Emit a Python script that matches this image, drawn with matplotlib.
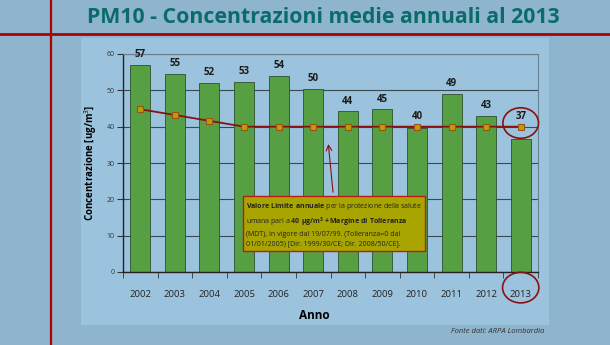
import numpy as np
import matplotlib.pyplot as plt
from matplotlib.patches import Rectangle, Ellipse
from matplotlib.lines import Line2D

plt.rcParams['font.family'] = ['Open Sans', 'DejaVu Sans']
plt.rcParams['mathtext.fontset'] = 'custom'
plt.rcParams['mathtext.rm'] = 'Open Sans'
plt.rcParams['mathtext.bf'] = 'Open Sans:bold'

# ===== data =====
years = ['2002', '2003', '2004', '2005', '2006', '2007',
         '2008', '2009', '2010', '2011', '2012', '2013']
pm10 = [57.0, 54.6, 52.0, 52.3, 53.9, 50.4, 44.2, 44.8, 39.7, 49.0, 42.9, 36.7]
pm10_labels = ['57', '55', '52', '53', '54', '50', '44', '45', '40', '49', '43', '37']
limit = [44.8, 43.2, 41.6, 40, 40, 40, 40, 40, 40, 40, 40, 40]

box_text = ("$\\mathbf{Valore\\ Limite\\ annuale}$ per la protezione della salute\n"
            "umana pari a $\\mathbf{40\\ \\mu g/m^3 + Margine\\ di\\ Tolleranza}$\n"
            "(MDT), in vigore dal 19/07/99. (Tolleranza=0 dal\n"
            "01/01/2005) [Dir. 1999/30/CE; Dir. 2008/50/CE].")

slide_bg = '#8fb4cd'
panel_bg = '#9cc3dd'
red = '#b00000'

fig = plt.figure(figsize=(6.1, 3.45), dpi=100, facecolor=slide_bg)

# slide decorations
fig.patches.append(Rectangle((81 / 610, 1 - 325 / 345), 468 / 610, 287 / 345,
                             transform=fig.transFigure, facecolor=panel_bg,
                             edgecolor='none', zorder=-2))
fig.lines.append(Line2D([51 / 610, 51 / 610], [0, 1], transform=fig.transFigure,
                        color=red, lw=1.6, zorder=-1))
fig.lines.append(Line2D([0, 1], [1 - 33.5 / 345, 1 - 33.5 / 345], transform=fig.transFigure,
                        color=red, lw=2.0, zorder=-1))
fig.text(323 / 610, 1 - 17.5 / 345, 'PM10 - Concentrazioni medie annuali al 2013',
         ha='center', va='center', fontsize=15.3, fontweight='bold',
         color='#0b6b6b', family='Open Sans')
fig.text(0.893, 0.04, 'Fonte dati: ARPA Lombardia', ha='right', va='center',
         fontsize=5.5, style='italic', color='#333333')

ax = fig.add_axes([123 / 610, 1 - 272 / 345, 415 / 610, 218 / 345])
ax.set_facecolor(panel_bg)
x = np.arange(len(years))

ax.bar(x, pm10, width=0.58, color='#56a043', edgecolor='#2f4f2f', linewidth=0.6, zorder=2)
for xi, v, lim, lab in zip(x, pm10, limit, pm10_labels):
    ax.text(xi, max(v, lim) + 1.3, lab, ha='center', va='bottom', fontsize=7,
            fontweight='bold', color='#1a1a1a', zorder=6)

ax.plot(x, limit, color='#8b1010', lw=1.3, marker='s', markersize=4.5,
        markerfacecolor='#b8a000', markeredgecolor='#a0501a', markeredgewidth=0.8, zorder=4)

ax.set_xlim(-0.5, len(years) - 0.5)
ax.set_ylim(0, 60)
ax.set_yticks(range(0, 61, 10))
ax.yaxis.grid(True, color='#3a4a55', lw=0.8)
ax.set_axisbelow(True)
ax.set_xticks(x, years)
ax.set_xticks(np.arange(-0.5, len(years)), minor=True)
ax.tick_params(axis='x', which='major', length=0, labelsize=6.8, pad=13, colors='#222222')
ax.tick_params(axis='x', which='minor', length=4, direction='out', color='#333333')
ax.tick_params(axis='y', length=4, direction='out', labelsize=5, colors='#333333', pad=2)
for s in ['top', 'right']:
    ax.spines[s].set_color('#6a7f8c')
    ax.spines[s].set_linewidth(0.8)
for s in ['left', 'bottom']:
    ax.spines[s].set_color('#222222')
    ax.spines[s].set_linewidth(1.0)

ax.set_ylabel('Concentrazione [ug/m$^3$]', fontsize=7, fontweight='bold', labelpad=5)
ax.set_xlabel('Anno', fontsize=8.5, fontweight='bold', labelpad=5)
ax.xaxis.set_label_coords(0.46, -0.17)

# limit-value annotation
ax.text(3.05, 19.6, box_text, ha='left', va='top', fontsize=5.0, linespacing=1.45,
        color='#222222', zorder=6,
        bbox=dict(boxstyle='square,pad=0.45', facecolor='#a9a500', edgecolor='#c01818', lw=1.0))
ax.annotate('', xy=(5.43, 36.0), xytext=(5.58, 21.2),
            arrowprops=dict(arrowstyle='->', color='#8b1010', lw=0.8), zorder=5)

# circles around 2013
ax.add_patch(Ellipse((11, 41.0), 1.03, 8.4, fill=False, edgecolor='#8b1010', lw=1.2,
                     zorder=5, clip_on=False))
ax.add_patch(Ellipse((11, -4.3), 1.05, 8.4, fill=False, edgecolor='#8b1010', lw=1.2,
                     zorder=5, clip_on=False))

fig.savefig('out.png', dpi=100, facecolor=slide_bg)
